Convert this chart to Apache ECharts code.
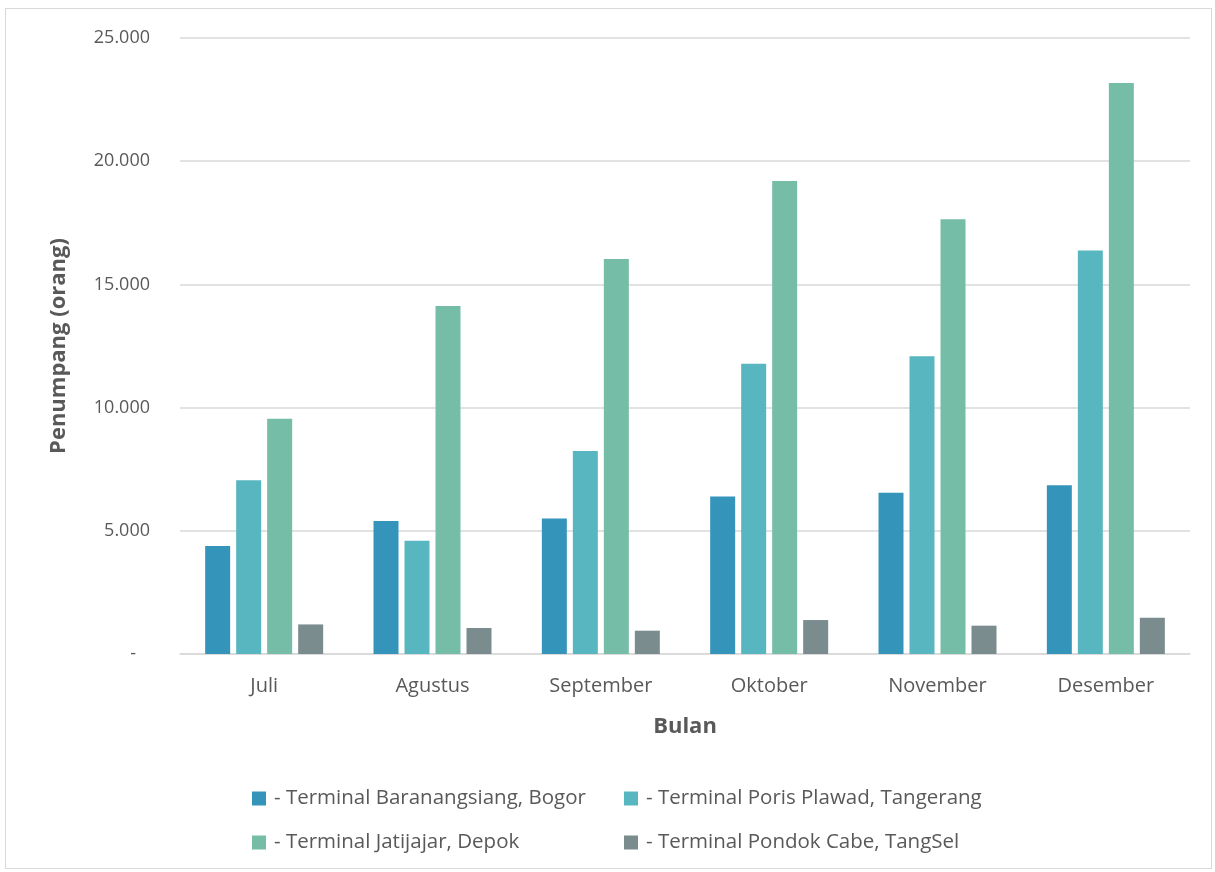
<!DOCTYPE html>
<html>
<head>
<meta charset="utf-8">
<script src="https://cdn.jsdelivr.net/npm/echarts@6/dist/echarts.min.js"></script>
<style>
html,body{margin:0;padding:0;background:#fff;}
#frame{position:absolute;left:5px;top:8px;width:1207px;height:861px;border:1px solid #d9d9d9;box-sizing:border-box;}
#chart{position:absolute;left:0;top:0;width:1215px;height:872px;}
</style>
</head>
<body>
<div id="frame"></div>
<div id="chart"></div>
<script>
var categories = ['Juli', 'Agustus', 'September', 'Oktober', 'November', 'Desember'];
var seriesNames = [
  '- Terminal Baranangsiang, Bogor',
  '- Terminal Poris Plawad, Tangerang',
  '- Terminal Jatijajar, Depok',
  '- Terminal Pondok Cabe, TangSel'
];
var baranangsiang = [4380, 5400, 5500, 6390, 6540, 6850];
var porisPlawad   = [7050, 4600, 8240, 11780, 12080, 16380];
var jatijajar     = [9550, 14120, 16030, 19200, 17640, 23170];
var pondokCabe    = [1200, 1055, 946, 1378, 1150, 1475];
var yTicks = [0, 5000, 10000, 15000, 20000, 25000];

var colors = ['#3494BA', '#58B6C0', '#75BDA7', '#7A8C8E'];
var values = [baranangsiang, porisPlawad, jatijajar, pondokCabe];
var font = 'Open Sans';
var txt = '#595959';

function fmt(v) {
  if (v === 0) return '-   ';
  return String(v).replace(/\B(?=(\d{3})+(?!\d))/g, '.');
}

var series = seriesNames.map(function (n, i) {
  return {
    name: n,
    type: 'bar',
    data: values[i],
    barWidth: 25,
    barGap: '24%',
    itemStyle: { color: colors[i] }
  };
});

var legendPos = [[247, 783], [619, 783], [247, 827], [619, 827]];
var legends = seriesNames.map(function (n, i) {
  return {
    data: [n],
    left: legendPos[i][0],
    top: legendPos[i][1],
    icon: 'rect',
    itemWidth: 14,
    itemHeight: 14,
    itemGap: 0,
    textStyle: { fontFamily: font, fontSize: 20.5, color: txt, padding: [0, 0, 0, 3] }
  };
});

var chart = echarts.init(document.getElementById('chart'), null, { renderer: 'canvas' });
chart.setOption({
  animation: false,
  color: colors,
  grid: { left: 180, right: 25, top: 38, bottom: 218, containLabel: false },
  legend: legends,
  xAxis: {
    type: 'category',
    data: categories,
    name: 'Bulan',
    nameLocation: 'middle',
    nameGap: 62,
    nameTextStyle: { fontFamily: font, fontSize: 22, fontWeight: 'bold', color: txt },
    axisTick: { show: false },
    axisLine: { lineStyle: { color: '#d9d9d9', width: 1.5 } },
    axisLabel: { fontFamily: font, fontSize: 20, color: txt, margin: 22 }
  },
  yAxis: {
    type: 'value',
    min: yTicks[0],
    max: yTicks[yTicks.length - 1],
    interval: yTicks[1] - yTicks[0],
    name: 'Penumpang (orang)',
    nameLocation: 'middle',
    nameGap: 110,
    nameTextStyle: { fontFamily: font, fontSize: 22, fontWeight: 'bold', color: txt },
    axisLine: { show: false },
    axisTick: { show: false },
    splitLine: { lineStyle: { color: '#d9d9d9', width: 1.5 } },
    axisLabel: { fontFamily: font, fontSize: 18, color: txt, margin: 30, formatter: fmt }
  },
  series: series
});
</script>
</body>
</html>
